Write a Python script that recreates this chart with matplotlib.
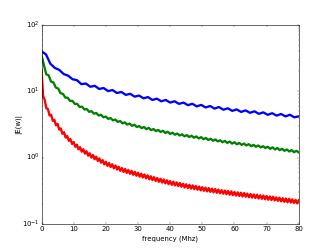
import numpy as np
import matplotlib
matplotlib.use("Agg")
from matplotlib import pyplot as plt

plt.style.use('classic')

# |E(w)|, three sources, each on its own frequency grid (MHz)
freq_blue = np.linspace(0, 80, 59)
e_blue = [40, 36, 26, 22.5, 21, 18.2, 17.2, 15.2, 14.7, 12.8,
          13.1, 11.7, 12.1, 10.85, 11.2, 10.07, 10.45, 9.42, 9.77, 8.83,
          9.17, 8.3, 8.63, 7.84, 8.18, 7.41, 7.75, 7.07, 7.41, 6.76,
          7.08, 6.46, 6.77, 6.18, 6.49, 5.93, 6.24, 5.71, 6.01, 5.49,
          5.79, 5.28, 5.55, 5.07, 5.34, 4.89, 5.16, 4.74, 5.0, 4.57,
          4.82, 4.42, 4.68, 4.30, 4.55, 4.19, 4.43, 4.06, 4.2]

freq_green = np.linspace(0, 80, 109)
e_green = [35, 25, 18.0, 17.4, 14.0, 13.6, 11.4, 11.0, 9.35, 9.15,
           8.05, 8.0, 7.14, 7.17, 6.44, 6.46, 5.80, 5.87, 5.33, 5.41,
           4.91, 5.02, 4.60, 4.72, 4.32, 4.43, 4.06, 4.16, 3.84, 3.96,
           3.65, 3.75, 3.46, 3.57, 3.29, 3.40, 3.15, 3.27, 3.02, 3.14,
           2.90, 3.00, 2.79, 2.90, 2.69, 2.81, 2.60, 2.70, 2.52, 2.62,
           2.44, 2.54, 2.36, 2.46, 2.28, 2.38, 2.22, 2.31, 2.16, 2.25,
           2.10, 2.19, 2.05, 2.14, 2.00, 2.09, 1.95, 2.04, 1.90, 1.98,
           1.85, 1.93, 1.80, 1.88, 1.76, 1.83, 1.71, 1.79, 1.67, 1.75,
           1.63, 1.71, 1.59, 1.67, 1.56, 1.63, 1.53, 1.60, 1.49, 1.56,
           1.46, 1.53, 1.43, 1.49, 1.40, 1.46, 1.36, 1.43, 1.33, 1.40,
           1.30, 1.36, 1.27, 1.33, 1.24, 1.30, 1.21, 1.27, 1.2]

freq_red = np.linspace(0, 80, 161)
e_red = [21, 8.5, 7.4, 5.55, 5.4, 4.32, 4.45, 3.6, 3.71, 3.07,
         3.23, 2.65, 2.76, 2.29, 2.42, 2.01, 2.12, 1.79, 1.91, 1.61,
         1.72, 1.46, 1.57, 1.335, 1.44, 1.234, 1.343, 1.15, 1.252, 1.072,
         1.166, 1.004, 1.099, 0.947, 1.037, 0.893, 0.977, 0.841, 0.921, 0.793,
         0.869, 0.754, 0.832, 0.722, 0.797, 0.692, 0.763, 0.662, 0.730, 0.634,
         0.700, 0.610, 0.677, 0.590, 0.655, 0.572, 0.634, 0.553, 0.614, 0.535,
         0.594, 0.518, 0.576, 0.503, 0.559, 0.488, 0.542, 0.473, 0.525, 0.459,
         0.509, 0.446, 0.495, 0.433, 0.482, 0.422, 0.470, 0.411, 0.457, 0.400,
         0.445, 0.390, 0.436, 0.382, 0.425, 0.373, 0.416, 0.365, 0.406, 0.356,
         0.398, 0.349, 0.390, 0.342, 0.383, 0.336, 0.375, 0.329, 0.368, 0.322,
         0.360, 0.317, 0.354, 0.311, 0.349, 0.306, 0.342, 0.301, 0.337, 0.296,
         0.331, 0.291, 0.325, 0.287, 0.320, 0.282, 0.316, 0.277, 0.311, 0.273,
         0.305, 0.269, 0.301, 0.265, 0.297, 0.261, 0.293, 0.258, 0.288, 0.254,
         0.284, 0.250, 0.280, 0.247, 0.277, 0.243, 0.272, 0.240, 0.269, 0.237,
         0.265, 0.233, 0.261, 0.230, 0.258, 0.227, 0.253, 0.224, 0.250, 0.220,
         0.246, 0.216, 0.243, 0.213, 0.240, 0.211, 0.236, 0.208, 0.232, 0.205,
         0.229]

fig = plt.figure(figsize=(8, 6), dpi=41.5, facecolor='w')
ax = fig.add_subplot(111)
ax.semilogy(freq_blue, e_blue, 'b-', lw=4)
ax.semilogy(freq_green, e_green, 'g-', lw=4)
ax.semilogy(freq_red, e_red, 'r-', lw=4)
ax.set_xlim(0, 80)
ax.set_ylim(0.1, 100)
ax.set_xlabel('frequency (Mhz)')
ax.set_ylabel('|E(w)|', labelpad=0)
fig.savefig('out.png', dpi=41.5, facecolor='w')
